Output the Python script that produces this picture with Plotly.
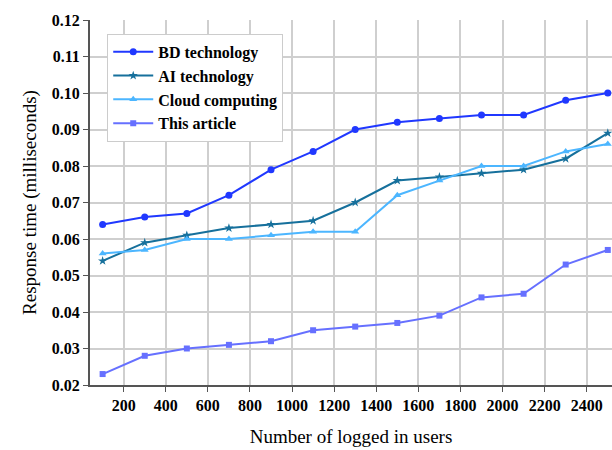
import plotly.graph_objects as go

users = [100, 300, 500, 700, 900, 1100, 1300, 1500, 1700, 1900, 2100, 2300, 2500]
bd_technology = [0.064, 0.066, 0.067, 0.072, 0.079, 0.084, 0.090, 0.092, 0.093, 0.094, 0.094, 0.098, 0.100]
ai_technology = [0.054, 0.059, 0.061, 0.063, 0.064, 0.065, 0.070, 0.076, 0.077, 0.078, 0.079, 0.082, 0.089]
cloud_computing = [0.056, 0.057, 0.060, 0.060, 0.061, 0.062, 0.062, 0.072, 0.076, 0.080, 0.080, 0.084, 0.086]
this_article = [0.023, 0.028, 0.030, 0.031, 0.032, 0.035, 0.036, 0.037, 0.039, 0.044, 0.045, 0.053, 0.057]

x_ticks = list(range(200, 2401, 200))
y_ticks = [0.02, 0.03, 0.04, 0.05, 0.06, 0.07, 0.08, 0.09, 0.10, 0.11, 0.12]

series = [
    ("BD technology", bd_technology, "#2038ff", "circle", 7),
    ("AI technology", ai_technology, "#16709c", "star", 7),
    ("Cloud computing", cloud_computing, "#4cb6ff", "triangle-up", 7),
    ("This article", this_article, "#6670ff", "square", 6),
]

fig = go.Figure()
for name, vals, color, sym, size in series:
    fig.add_trace(go.Scatter(
        x=users, y=vals, name=name, mode="lines+markers",
        line=dict(color=color, width=2),
        marker=dict(symbol=sym, size=size, color=color),
    ))

serif = "Liberation Serif, Times New Roman, serif"
fig.update_layout(
    width=612, height=450,
    margin=dict(l=90, r=0, t=20, b=65),
    paper_bgcolor="white", plot_bgcolor="white",
    font=dict(family=serif, color="black"),
    showlegend=True,
    legend=dict(
        x=0.033, y=0.962, xanchor="left", yanchor="top",
        bgcolor="white", bordercolor="#cccccc", borderwidth=1,
        font=dict(family=serif, size=16, color="black", weight="bold"),
        tracegroupgap=0, itemwidth=40,
    ),
    xaxis=dict(
        range=[40, 2520], tickvals=x_ticks,
        tickfont=dict(family=serif, size=16, weight="bold"),
        showgrid=True, gridcolor="#cfcfcf", gridwidth=1.5,
        showline=True, linecolor="#555555", linewidth=2,
        ticks="outside", ticklen=5, tickcolor="#555555",
        zeroline=False,
        title=dict(text="Number of logged in users", font=dict(family=serif, size=19), standoff=16),
    ),
    yaxis=dict(
        range=[0.02, 0.12], tickvals=y_ticks, tickformat=".2f",
        tickfont=dict(family=serif, size=16, weight="bold"),
        showgrid=True, gridcolor="#cfcfcf", gridwidth=1.5,
        showline=True, linecolor="#555555", linewidth=2,
        ticks="outside", ticklen=5, tickcolor="#555555",
        zeroline=False,
        title=dict(text="Response time (milliseconds)", font=dict(family=serif, size=19), standoff=10),
    ),
)

fig.write_html("out.html")
